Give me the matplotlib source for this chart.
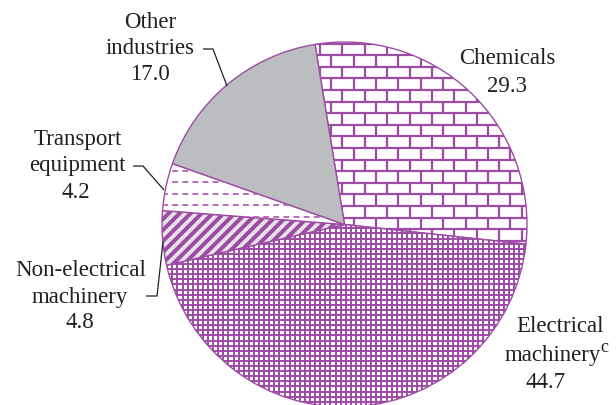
import numpy as np
import matplotlib
matplotlib.use("Agg")
import matplotlib.pyplot as plt
from matplotlib.collections import LineCollection

# data (per cent)
sectors = ["Chemicals", "Electrical machinery", "Non-electrical machinery",
           "Transport equipment", "Other industries"]
shares = [29.3, 44.7, 4.8, 4.2, 17.0]

W, H = 616, 405
PURPLE = "#9E4BA6"
TEXT = "#231F20"

fig = plt.figure(figsize=(W / 100, H / 100), dpi=100)
ax = fig.add_axes([0, 0, 1, 1])

cx, cy, r = 344.5, H - 224.5, 182.5
wedges, _ = ax.pie(shares, startangle=99.3, counterclock=False,
                   center=(cx, cy), radius=r,
                   wedgeprops=dict(edgecolor=PURPLE, linewidth=1.0))
ax.set_xlim(0, W)
ax.set_ylim(0, H)
ax.set_aspect("equal")
ax.axis("off")

x0, x1 = cx - r - 10, cx + r + 10
y0, y1 = cy - r - 10, cy + r + 10


def add_lines(segs, wedge, **kw):
    lc = LineCollection(segs, **kw)
    ax.add_collection(lc)
    lc.set_clip_path(wedge)


# chemicals: brick pattern
w = wedges[0]
w.set_facecolor("white")
segs = []
rows = np.arange(y1, y0, -11.6)
for k, yr in enumerate(rows):
    segs.append([(x0, yr), (x1, yr)])
    off = 0 if k % 2 == 0 else 11.2
    for xv in np.arange(x0 + off, x1, 22.4):
        segs.append([(xv, yr), (xv, yr - 11.6)])
add_lines(segs, w, colors=PURPLE, linewidths=1.6)

# electrical machinery: fine grid
w = wedges[1]
w.set_facecolor("white")
segs = [[(x0, yv), (x1, yv)] for yv in np.arange(y0, y1, 5.1)]
segs += [[(xv, y0), (xv, y1)] for xv in np.arange(x0, x1, 5.1)]
add_lines(segs, w, colors=PURPLE, linewidths=1.4)

# non-electrical machinery: diagonal stripes on grey
w = wedges[2]
w.set_facecolor("#E4E4E4")
segs = [[(x0, x0 + c), (x1, x1 + c)] for c in np.arange(y0 - x1, y1 - x0, 11)]
add_lines(segs, w, colors=PURPLE, linewidths=2.9)

# transport equipment: dashed lines
w = wedges[3]
w.set_facecolor("white")
segs = [[(x0, yv), (x1, yv)] for yv in np.arange(H - 170.5, y0, -11.5)]
add_lines(segs, w, colors="#B46DBB", linewidths=1.4, linestyles=(0, (3, 2.2)))

# other industries: plain grey
wedges[4].set_facecolor("#BCBDC0")

fs = 16.5
font = dict(family="Liberation Serif", fontsize=fs, color=TEXT,
            ha="center", va="center")


def label(x, y, s, **kw):
    ax.text(x, H - y, s, **{**font, **kw})


def leader(pts):
    xs = [p[0] for p in pts]
    ys = [H - p[1] for p in pts]
    ax.plot(xs, ys, color=TEXT, lw=0.9, solid_capstyle="butt")


label(150, 22, "Other")
label(150, 48, "industries")
label(150, 75, f"{shares[4]:.1f}")
leader([(203, 49), (213, 49), (227, 86)])

label(78, 139, "Transport")
label(77, 166, "equipment")
label(76, 192, f"{shares[3]:.1f}")
leader([(133, 166), (143, 166), (164, 190)])

label(81, 270, "Non-electrical")
label(80, 297, "machinery")
label(80, 323, f"{shares[2]:.1f}")
leader([(146, 296), (157, 296), (163, 242)])

label(507, 59, "Chemicals")
label(507, 86, f"{shares[0]:.1f}")

label(560, 327, "Electrical")
label(553, 355, "machinery")
label(604, 347, "c", fontsize=13)
label(546, 382, f"{shares[1]:.1f}")

fig.savefig("out.png", dpi=100)
